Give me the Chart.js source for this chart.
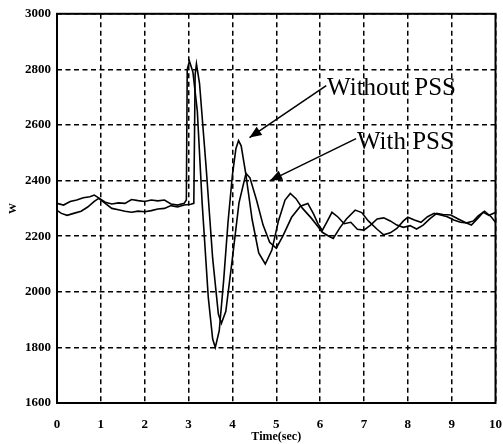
<!DOCTYPE html>
<html>
<head>
<meta charset="utf-8">
<script src="https://cdn.jsdelivr.net/npm/chart.js@4.4.1/dist/chart.umd.min.js"></script>
<style>
  html, body { margin: 0; padding: 0; background: #fff; }
</style>
</head>
<body>
<canvas id="chart" width="503" height="444"></canvas>
<script>
// Time axis (sec) and power (W)
const withoutTime = [0, 0.15, 0.3, 0.45, 0.6, 0.75, 0.85, 0.95, 1.1, 1.25, 1.4, 1.55, 1.7, 1.85, 2.0, 2.15, 2.3, 2.45, 2.6, 2.75, 2.9, 2.95, 2.97, 3.02, 3.1, 3.2, 3.31, 3.45, 3.55, 3.61, 3.7, 3.8, 3.9, 4.0, 4.08, 4.14, 4.2, 4.3, 4.45, 4.6, 4.75, 4.9, 5.05, 5.2, 5.32, 5.45, 5.6, 5.8, 5.95, 6.05, 6.2, 6.3, 6.45, 6.6, 6.8, 6.95, 7.1, 7.3, 7.45, 7.6, 7.75, 7.9, 8.0, 8.15, 8.3, 8.45, 8.6, 8.75, 8.9, 9.05, 9.2, 9.35, 9.5, 9.6, 9.75, 9.9, 10];
const withoutPower = [2318, 2312, 2325, 2330, 2338, 2342, 2348, 2338, 2322, 2316, 2320, 2318, 2332, 2328, 2325, 2330, 2327, 2330, 2316, 2312, 2318, 2330, 2800, 2830, 2790, 2650, 2320, 1980, 1830, 1800, 1860, 2040, 2250, 2420, 2515, 2544, 2525, 2430, 2260, 2140, 2100, 2150, 2255, 2330, 2354, 2335, 2300, 2265, 2235, 2214, 2200, 2192, 2230, 2262, 2294, 2285, 2255, 2225, 2205, 2212, 2228, 2255, 2268, 2258, 2250, 2270, 2282, 2276, 2270, 2258, 2250, 2248, 2255, 2272, 2290, 2270, 2250];

const withTime = [0, 0.1, 0.23, 0.4, 0.55, 0.7, 0.85, 0.95, 1.1, 1.25, 1.4, 1.55, 1.7, 1.85, 2.0, 2.15, 2.3, 2.45, 2.6, 2.75, 2.9, 3.05, 3.12, 3.15, 3.18, 3.25, 3.4, 3.55, 3.68, 3.75, 3.85, 4.0, 4.15, 4.31, 4.4, 4.55, 4.7, 4.85, 5.0, 5.15, 5.35, 5.55, 5.72, 5.85, 5.95, 6.05, 6.15, 6.27, 6.4, 6.55, 6.7, 6.85, 7.0, 7.15, 7.3, 7.45, 7.6, 7.75, 7.9, 8.05, 8.2, 8.35, 8.5, 8.66, 8.8, 8.98, 9.15, 9.3, 9.45, 9.6, 9.72, 9.85, 10];
const withPower = [2293, 2282, 2275, 2283, 2290, 2305, 2325, 2336, 2318, 2300, 2295, 2290, 2286, 2290, 2288, 2292, 2298, 2300, 2310, 2305, 2312, 2315, 2318, 2780, 2820, 2750, 2450, 2120, 1920, 1887, 1930, 2120, 2320, 2426, 2410, 2330, 2240, 2178, 2157, 2200, 2268, 2308, 2318, 2280, 2245, 2221, 2250, 2286, 2270, 2245, 2250, 2225, 2222, 2240, 2262, 2266, 2255, 2240, 2232, 2238, 2226, 2240, 2262, 2282, 2278, 2276, 2262, 2250, 2240, 2265, 2286, 2275, 2285];

const xTicks = [0, 1, 2, 3, 4, 5, 6, 7, 8, 9, 10];
const yTicks = [1600, 1800, 2000, 2200, 2400, 2600, 2800, 3000];

const seriesNames = ['Without PSS', 'With PSS'];

function toPoints(ts, vs) {
  return ts.map((t, i) => ({ x: t, y: vs[i] }));
}

// draws the solid frame and the two arrow labels
const framePlugin = {
  id: 'frame',
  afterDraw(chart, args, opts) {
    const { ctx, chartArea: a, scales: { x, y } } = chart;
    ctx.save();
    ctx.strokeStyle = '#000';
    ctx.lineWidth = 2;
    ctx.strokeRect(a.left, a.top, a.right - a.left, a.bottom - a.top);

    ctx.font = '25px "Liberation Serif", "Times New Roman", serif';
    ctx.fillStyle = '#000';
    ctx.textBaseline = 'alphabetic';
    opts.notes.forEach(n => {
      const x0 = x.getPixelForValue(n.from[0]), y0 = y.getPixelForValue(n.from[1]);
      const x1 = x.getPixelForValue(n.to[0]), y1 = y.getPixelForValue(n.to[1]);
      ctx.lineWidth = 1.5;
      ctx.beginPath();
      ctx.moveTo(x0, y0);
      ctx.lineTo(x1, y1);
      ctx.stroke();
      const ang = Math.atan2(y1 - y0, x1 - x0);
      const len = 12, half = 5;
      ctx.beginPath();
      ctx.moveTo(x1, y1);
      ctx.lineTo(x1 - len * Math.cos(ang) + half * Math.sin(ang), y1 - len * Math.sin(ang) - half * Math.cos(ang));
      ctx.lineTo(x1 - len * Math.cos(ang) - half * Math.sin(ang), y1 - len * Math.sin(ang) + half * Math.cos(ang));
      ctx.closePath();
      ctx.fill();
      ctx.fillText(n.text, x.getPixelForValue(n.at[0]), y.getPixelForValue(n.at[1]));
    });
    ctx.restore();
  }
};

const tickFont = { family: '"Liberation Serif", "Times New Roman", serif', size: 13, weight: 'bold' };

new Chart(document.getElementById('chart'), {
  type: 'line',
  data: {
    datasets: [
      {
        label: seriesNames[0],
        data: toPoints(withoutTime, withoutPower),
        borderColor: '#000',
        borderWidth: 1.6,
        pointRadius: 0,
        tension: 0
      },
      {
        label: seriesNames[1],
        data: toPoints(withTime, withPower),
        borderColor: '#000',
        borderWidth: 1.6,
        pointRadius: 0,
        tension: 0
      }
    ]
  },
  options: {
    responsive: false,
    animation: false,
    layout: { padding: { top: 13, right: 6, left: 0, bottom: 0 } },
    plugins: {
      legend: { display: false },
      tooltip: { enabled: false },
      frame: {
        notes: [
          { text: seriesNames[0], at: [6.16, 2709], from: [6.14, 2742], to: [4.39, 2555] },
          { text: seriesNames[1], at: [6.84, 2515], from: [6.82, 2551], to: [4.86, 2400] }
        ]
      }
    },
    scales: {
      x: {
        type: 'linear',
        min: 0,
        max: 10,
        afterBuildTicks: s => { s.ticks = xTicks.map(v => ({ value: v })); },
        afterFit: s => { s.height = 41; },
        grid: { color: '#000', lineWidth: 1.5, drawTicks: true, tickLength: 13, tickColor: 'rgba(0,0,0,0)' },
        border: { display: false, dash: [5, 3.5] },
        ticks: { color: '#000', font: tickFont, padding: 1, maxRotation: 0, callback: v => String(v) },
        title: {
          display: true,
          text: 'Time(sec)',
          color: '#000',
          font: { family: '"Liberation Serif", serif', size: 12, weight: 'bold' },
          padding: { top: 0, bottom: 0 }
        }
      },
      y: {
        type: 'linear',
        min: 1600,
        max: 3000,
        afterBuildTicks: s => { s.ticks = yTicks.map(v => ({ value: v })); },
        afterFit: s => { s.width = 57; },
        grid: { color: '#000', lineWidth: 1.5, drawTicks: false },
        border: { display: false, dash: [5, 3.5] },
        ticks: { color: '#000', font: tickFont, padding: 6, callback: v => String(v) },
        title: {
          display: true,
          text: 'W',
          color: '#000',
          font: { family: '"Liberation Serif", serif', size: 11, weight: 'bold' },
          padding: { top: 7, bottom: 0 }
        }
      }
    }
  },
  plugins: [framePlugin]
});
</script>
</body>
</html>
